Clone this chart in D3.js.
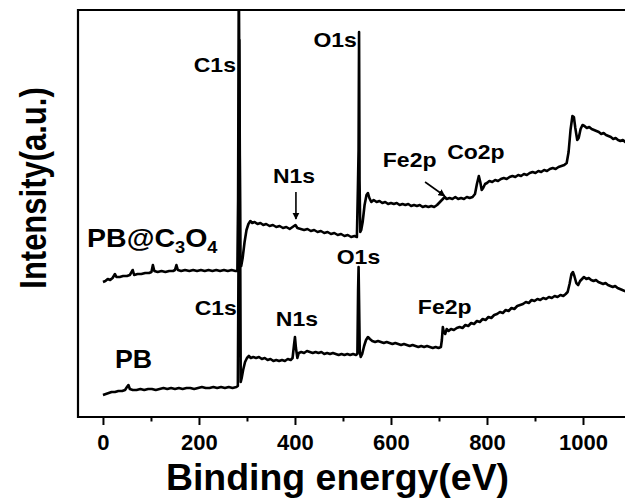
<!DOCTYPE html>
<html>
<head>
<meta charset="utf-8">
<script src="https://cdn.jsdelivr.net/npm/d3@7"></script>
<style>
  html, body { margin: 0; padding: 0; background: #fff; }
  svg { display: block; font-family: "Liberation Sans", Arial, sans-serif; font-weight: bold; }
</style>
</head>
<body>
<script>
// XPS survey spectra: [binding energy (eV), intensity (a.u.)]
const spectrumPBC = [
  [0,135],[5,136],[10,138],[15,137],[20,139],[25,143],[28,140],[35,140],[42,141],[50,141],
  [56,142],[62,147],[65,142],[72,143],[80,143],[88,144],[96,144],[101,145],[104,152],[107,146],
  [114,145],[122,146],[130,145],[138,146],[146,146],[150,147],[153,152],[156,147],[163,146],[171,147],
  [180,146],[188,147],[196,146],[204,147],[212,146],[220,147],[228,146],[236,147],[244,146],[252,147],
  [260,146],[268,147],[276,146],[280,146],[281.5,217],[283,447],[284.5,297],[286,155],[288,151],[291,159],
  [295,175],[299,187],[303,193],[307,196],[311,194],[316,195],[322,193],[328,194],[334,192],[340,193],
  [347,191],[354,192],[361,190],[368,191],[375,189],[382,190],[389,188],[395,190],[401,192],[405,189],
  [412,188],[419,187],[426,188],[433,186],[440,187],[447,185],[454,186],[461,184],[468,185],[475,183],
  [482,184],[489,182],[496,183],[503,181],[510,182],[517,180],[524,181],[529,180],[531,227],[532.5,267],
  [533.5,385],[534.5,237],[536,185],[538,187],[541,195],[545,212],[549,222],[552,224],[555,219],[559,215],
  [564,217],[570,215],[576,216],[582,214],[588,215],[594,213],[600,214],[606,213],[612,214],[618,212],
  [624,213],[630,212],[636,213],[642,211],[648,212],[654,211],[660,212],[666,210],[672,211],[678,210],
  [684,211],[690,210],[696,212],[702,215],[708,218],[712,220],[716,218],[722,219],[728,218],[734,220],
  [740,218],[746,219],[752,218],[758,220],[764,219],[770,220],[775,223],[779,233],[783,241],[786,235],
  [789,227],[792,229],[796,233],[800,234],[805,236],[811,235],[817,237],[823,236],[829,238],[835,239],
  [841,238],[847,240],[853,241],[859,240],[865,242],[871,241],[877,243],[883,242],[889,244],[895,245],
  [901,244],[907,246],[913,245],[919,247],[925,246],[931,248],[937,249],[943,248],[949,250],[955,251],
  [961,252],[966,254],[970,265],[974,287],[978,301],[981,300],[984,289],[988,277],[991,279],[995,288],
  [999,292],[1003,291],[1008,289],[1013,290],[1018,288],[1023,287],[1028,286],[1033,285],[1038,283],[1043,284],
  [1048,282],[1053,281],[1058,280],[1063,278],[1068,279],[1073,277],[1078,276],[1083,277],[1088,275],[1095,274]
];

const spectrumPB = [
  [0,22],[6,23],[12,24],[18,25],[25,25],[32,26],[40,26],[46,27],[50,30],[53,32],
  [56,28],[62,27],[70,27],[78,28],[86,27],[94,28],[102,28],[110,27],[118,28],[126,29],
  [134,28],[142,29],[150,28],[158,29],[166,28],[174,29],[182,29],[190,28],[198,29],[206,30],
  [214,29],[222,29],[230,30],[238,29],[246,30],[254,29],[262,30],[270,29],[278,30],[281,31],
  [282.5,167],[284,377],[285.5,217],[287,35],[289,39],[292,47],[296,55],[300,59],[304,61],[308,59],
  [313,60],[319,59],[325,60],[331,58],[337,59],[343,57],[349,58],[355,56],[361,57],[367,56],
  [373,57],[379,56],[385,58],[391,57],[395,59],[398,72],[400,80],[402,69],[405,59],[408,64],
  [413,65],[419,64],[425,66],[431,65],[437,64],[443,65],[449,64],[455,65],[461,63],[467,64],
  [473,63],[479,64],[485,63],[491,62],[497,63],[503,62],[509,63],[515,62],[521,63],[527,62],
  [530,63],[531.5,127],[532.5,150],[533.5,117],[535,65],[537,60],[540,63],[544,71],[548,77],[552,80],
  [556,78],[561,76],[567,75],[573,76],[579,75],[585,74],[591,75],[597,74],[603,73],[609,74],
  [615,73],[621,72],[627,73],[633,72],[639,71],[645,72],[651,71],[657,70],[663,71],[669,70],
  [675,71],[681,70],[687,69],[693,70],[699,69],[704,70],[706,77],[708,90],[710,85],[713,83],
  [716,88],[720,86],[725,88],[731,87],[737,89],[743,90],[749,89],[755,92],[761,91],[767,94],
  [773,93],[779,96],[785,95],[791,98],[797,97],[803,100],[809,99],[815,102],[821,103],[827,105],
  [833,104],[839,107],[845,106],[851,109],[857,108],[863,111],[869,112],[875,113],[881,115],[887,114],
  [893,117],[899,116],[905,118],[911,117],[917,119],[923,118],[929,120],[935,119],[941,121],[947,120],
  [953,122],[959,121],[964,123],[968,125],[972,133],[976,143],[979,145],[982,141],[986,134],[990,132],
  [994,136],[998,138],[1002,140],[1007,138],[1012,139],[1017,137],[1022,136],[1027,137],[1032,135],[1037,134],
  [1042,133],[1047,134],[1052,132],[1057,131],[1062,130],[1067,131],[1072,129],[1077,128],[1082,127],[1087,126],[1095,125]
];

const energyTicks = [0, 200, 400, 600, 800, 1000];
const minorTicks = [100, 300, 500, 700, 900, 1100];

// peak labels: text, energy, intensity of the label baseline
const peakLabelsPBC = [
  { text: "C1s",  ev: 277, level: 345, anchor: "end" },
  { text: "O1s",  ev: 529, level: 370, anchor: "end" },
  { text: "N1s",  ev: 354, level: 234, anchor: "start" },
  { text: "Fe2p", ev: 583, level: 250, anchor: "start" },
  { text: "Co2p", ev: 717, level: 258, anchor: "start" }
];
const peakLabelsPB = [
  { text: "C1s",  ev: 279, level: 102, anchor: "end" },
  { text: "N1s",  ev: 360, level: 91,  anchor: "start" },
  { text: "O1s",  ev: 487, level: 153, anchor: "start" },
  { text: "Fe2p", ev: 656, level: 103, anchor: "start" }
];
// arrows pointing at weak peaks: [[ev, level] from, [ev, level] to]
const peakArrows = [
  [[402, 225], [402, 198]],
  [[671, 235], [712, 221]]
];

const W = 625, H = 501;
const svg = d3.select("body").append("svg").attr("width", W).attr("height", H);

const plotLeft = 78, plotTop = 10, plotBottom = 417;
const x = d3.scaleLinear().domain([-52, 1150]).range([plotLeft, 655]);
const y = d3.scaleLinear().domain([0, 407]).range([plotBottom, plotTop]);

const defs = svg.append("defs");
defs.append("clipPath").attr("id", "plot")
  .append("rect").attr("x", plotLeft).attr("y", plotTop).attr("width", 700).attr("height", plotBottom - plotTop);
defs.append("marker")
  .attr("id", "head").attr("viewBox", "0 0 10 10").attr("refX", 9).attr("refY", 5)
  .attr("markerWidth", 4.5).attr("markerHeight", 4.5).attr("orient", "auto")
  .append("path").attr("d", "M0,0 L10,5 L0,10 Z").attr("fill", "#000");

// spectra
const line = d3.line().x(d => x(d[0])).y(d => y(d[1]));
const curves = svg.append("g").attr("clip-path", "url(#plot)");
[spectrumPB, spectrumPBC].forEach(s => {
  curves.append("path").datum(s).attr("d", line)
    .attr("fill", "none").attr("stroke", "#000").attr("stroke-width", 2.6)
    .attr("stroke-linejoin", "round");
});

// frame
svg.append("path")
  .attr("d", `M${W + 5},${plotTop} H${plotLeft} V${plotBottom} H${W + 5}`)
  .attr("fill", "none").attr("stroke", "#000").attr("stroke-width", 2.2);

// x axis: major + minor ticks
const major = d3.axisBottom(x).tickValues(energyTicks).tickSize(8).tickPadding(9.5).tickFormat(d3.format("d"));
const minor = d3.axisBottom(x).tickValues(minorTicks).tickSize(4.5).tickFormat("");
const gMajor = svg.append("g").attr("transform", `translate(0,${plotBottom})`).call(major);
const gMinor = svg.append("g").attr("transform", `translate(0,${plotBottom})`).call(minor);
[gMajor, gMinor].forEach(g => {
  g.select(".domain").remove();
  g.selectAll("line").attr("stroke", "#000").attr("stroke-width", 2);
});
gMajor.selectAll("text").attr("fill", "#000")
  .style("font-size", "22px").style("font-weight", "bold")
  .style("font-family", "'Liberation Sans', Arial, sans-serif");

// axis titles
svg.append("text").attr("transform", "translate(337.5,490) scale(1.04,1)")
  .attr("text-anchor", "middle").style("font-size", "36px")
  .text("Binding energy(eV)");
svg.append("text").attr("transform", "translate(46,188) rotate(-90) scale(1,1.22)")
  .attr("text-anchor", "middle").style("font-size", "31px")
  .text("Intensity(a.u.)");

// peak labels
function peakLabel(p) {
  svg.append("text")
    .attr("transform", `translate(${x(p.ev)},${y(p.level)}) scale(1.15,1)`)
    .attr("text-anchor", p.anchor).style("font-size", "20px")
    .text(p.text);
}
peakLabelsPBC.forEach(peakLabel);
peakLabelsPB.forEach(peakLabel);

peakArrows.forEach(([a, b]) => {
  svg.append("line")
    .attr("x1", x(a[0])).attr("y1", y(a[1])).attr("x2", x(b[0])).attr("y2", y(b[1]))
    .attr("stroke", "#000").attr("stroke-width", 1.6).attr("marker-end", "url(#head)");
});

// sample names
const nameBC = svg.append("text")
  .attr("transform", `translate(${x(-33)},${y(170)}) scale(1.14,1)`)
  .style("font-size", "25px");
nameBC.append("tspan").text("PB@C");
nameBC.append("tspan").attr("dy", 6).style("font-size", "16px").text("3");
nameBC.append("tspan").attr("dy", -6).text("O");
nameBC.append("tspan").attr("dy", 6).style("font-size", "16px").text("4");

svg.append("text")
  .attr("transform", `translate(${x(25)},${y(49)}) scale(1.07,1)`)
  .style("font-size", "25px").text("PB");
</script>
</body>
</html>
